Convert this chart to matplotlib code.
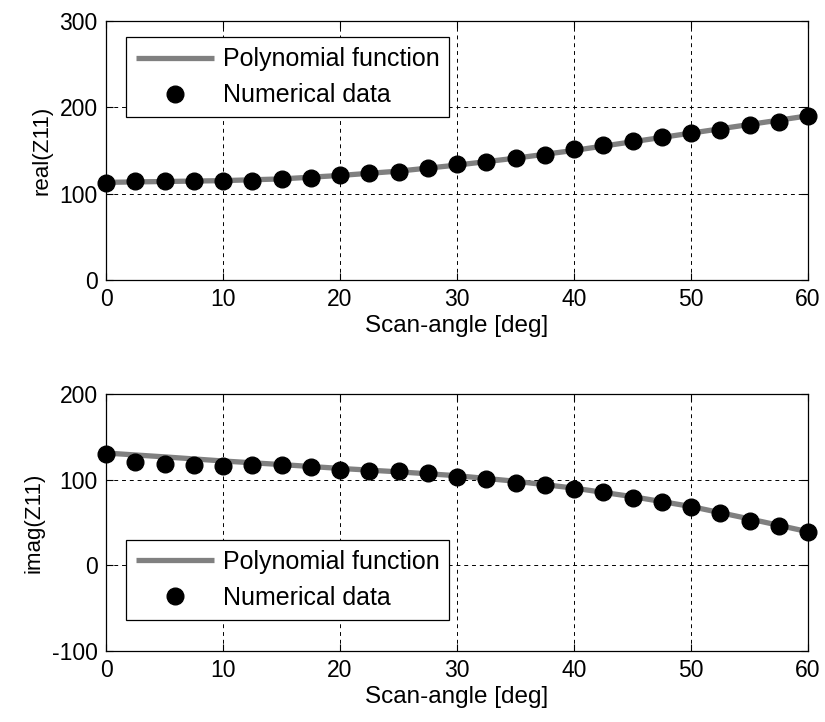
import matplotlib
matplotlib.use("Agg")
import matplotlib.pyplot as plt

plt.rcParams['font.family'] = ['Liberation Sans', 'DejaVu Sans']
plt.rcParams['axes.unicode_minus'] = False

# Scan angles of the numerical samples (deg)
scan_angle = [0, 2.5, 5, 7.5, 10, 12.5, 15, 17.5, 20, 22.5, 25, 27.5, 30,
              32.5, 35, 37.5, 40, 42.5, 45, 47.5, 50, 52.5, 55, 57.5, 60]

# Numerical data: real and imaginary parts of Z11
real_z11 = [112.5, 115, 115, 115, 114.5, 114.5, 117, 118.5, 121.5, 123.5, 125.5, 130, 134.5,
            137, 141, 145, 152, 156.5, 161, 166, 170, 174, 179, 183, 189.5]
imag_z11 = [130.4, 120.6, 118.7, 116.7, 115.9, 116.5, 116.7, 114.7, 111.7, 109.7, 109.7, 107.7, 103.5,
            101.2, 96, 94.2, 89.5, 85.2, 79, 73.8, 68, 61, 51.6, 45.4, 38.8]

# Polynomial fit curves evaluated on a coarser angle grid
poly_angle = [0, 5, 10, 15, 20, 25, 30, 35, 40, 45, 50, 55, 60]
real_poly = [113, 114, 115, 117, 121, 126, 133, 141, 150, 160, 170, 180, 190]
imag_poly = [131, 126.5, 121.7, 117.5, 113, 109, 104.5, 98, 90, 80, 68.5, 54, 39]

x_ticks = [0, 10, 20, 30, 40, 50, 60]

fig = plt.figure(figsize=(8.25, 7.22), dpi=100)
ax1 = fig.add_axes([0.1285, 0.6122, 0.851, 0.359])
ax2 = fig.add_axes([0.1285, 0.0988, 0.851, 0.3555])

panels = [
    (ax1, real_poly, real_z11, 'real(Z11)', [0, 100, 200, 300], (0, 300),
     'upper left', (0.0285, 0.936)),
    (ax2, imag_poly, imag_z11, 'imag(Z11)', [-100, 0, 100, 200], (-100, 200),
     'lower left', (0.0285, 0.1196)),
]

for ax, poly, data, ylabel, yticks, ylim, loc, anchor in panels:
    ax.plot(poly_angle, poly, color='#808080', lw=3.8, label='Polynomial function',
            solid_capstyle='butt', zorder=2)
    ax.plot(scan_angle, data, 'o', color='black', ms=12, label='Numerical data',
            clip_on=False, zorder=3)
    ax.set_xlim(0, 60)
    ax.set_ylim(*ylim)
    ax.set_xticks(x_ticks)
    ax.set_yticks(yticks)
    ax.tick_params(direction='in', length=5, width=0.8, labelsize=16.5,
                   top=True, right=True, pad=6)
    ax.grid(True, color='black', linestyle=(0, (4, 4)), lw=0.7)
    ax.set_xlabel('Scan-angle [deg]', fontsize=17.5, labelpad=3)
    ax.set_ylabel(ylabel, fontsize=16, labelpad=5)
    for s in ax.spines.values():
        s.set_linewidth(0.9)
    leg = ax.legend(loc=loc, bbox_to_anchor=anchor, fontsize=18, frameon=True,
                    fancybox=False, edgecolor='black', framealpha=1,
                    borderaxespad=0, handlelength=3.1, handletextpad=0.36,
                    numpoints=1, borderpad=0.4, labelspacing=0.48)
    leg.get_frame().set_linewidth(0.9)

fig.savefig('out.png', dpi=100)
